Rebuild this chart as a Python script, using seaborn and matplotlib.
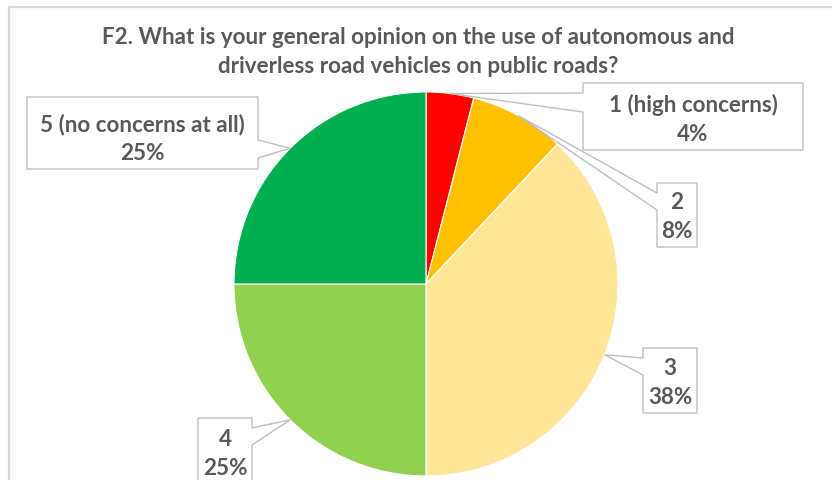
import numpy as np
import matplotlib
matplotlib.use("Agg")
import matplotlib.pyplot as plt
from matplotlib.patches import Polygon
import seaborn as sns

# Survey answers (share of respondents, %)
categories = ["1 (high concerns)", "2", "3", "4", "5 (no concerns at all)"]
shares = [4, 8, 38, 25, 25]
slice_colors = ["#FF0000", "#FFC000", "#FFE699", "#92D050", "#00B050"]
title_lines = ["F2. What is your general opinion on the use of autonomous and",
               "driverless road vehicles on public roads?"]

sns.set_theme(style="white")
plt.rcParams["font.family"] = ["Lato", "DejaVu Sans"]

W, H = 832, 480
fig = plt.figure(figsize=(W / 100, H / 100), dpi=100)
fig.patch.set_facecolor("white")

TEXT = "#595959"
EDGE = "#BFBFBF"
FS = 16.1

# Pie axes: centre (426, 284) px, radius 192 px
cx, cy, r = 426, 284, 192
pie_ax = fig.add_axes([(cx - r) / W, (H - cy - r) / H, 2 * r / W, 2 * r / H])
palette = sns.color_palette(slice_colors)
wedges, _ = pie_ax.pie(shares, colors=palette, startangle=90, counterclock=False,
                       radius=1.0, wedgeprops=dict(edgecolor="white", linewidth=0.8))
pie_ax.set_xlim(-1, 1)
pie_ax.set_ylim(-1, 1)
pie_ax.set_aspect("equal")
pie_ax.axis("off")

# Overlay in pixel coordinates (y grows downward)
ov = fig.add_axes([0, 0, 1, 1], zorder=5)
ov.set_xlim(0, W)
ov.set_ylim(H, 0)
ov.axis("off")
ov.patch.set_alpha(0)

# chart frame
ov.plot([9, 9, W + 5], [H + 5, 7, 7], color="#D9D9D9", lw=1.6, solid_capstyle="butt")

# title
for txt, base in zip(title_lines, [44, 73]):
    ov.text(418, base, txt, ha="center", va="baseline", fontsize=FS,
            fontweight="bold", color=TEXT)

# callout boxes: (x0, x1, y0, y1, side, pointer_a, pointer_b)
boxes = [
    (583, 803, 83, 150, "left", 93, 112),
    (657, 697, 183, 247, "left", 193, 210),
    (643, 697, 348, 413, "left", 358, 375),
    (198, 252, 418, 484, "right", 428, 445),
    (27, 258, 97, 169, "right", 140, 158),
]

fig.canvas.draw()
to_disp = pie_ax.transData
for wedge, cat, share, (x0, x1, y0, y1, side, pa, pb) in zip(
        wedges, categories, shares, boxes):
    mid = np.deg2rad((wedge.theta1 + wedge.theta2) / 2)
    px, py = to_disp.transform((np.cos(mid), np.sin(mid)))
    tip = (px, H - py)
    if side == "left":
        verts = [(x0, y0), (x1, y0), (x1, y1), (x0, y1), (x0, pb), tip, (x0, pa)]
    else:
        verts = [(x0, y0), (x1, y0), (x1, pa), tip, (x1, pb), (x1, y1), (x0, y1)]
    ov.add_patch(Polygon(verts, closed=True, facecolor="white", edgecolor=EDGE,
                         lw=1.0, zorder=3))
    xc = (x0 + x1) / 2
    b2 = (y1 - 9) if y1 < H else 475
    ov.text(xc, b2 - 29, cat, ha="center", va="baseline", fontsize=FS,
            fontweight="bold", color=TEXT, zorder=4)
    ov.text(xc, b2, f"{share}%", ha="center", va="baseline", fontsize=FS,
            fontweight="bold", color=TEXT, zorder=4)

fig.savefig("out.png", dpi=100, facecolor="white")
